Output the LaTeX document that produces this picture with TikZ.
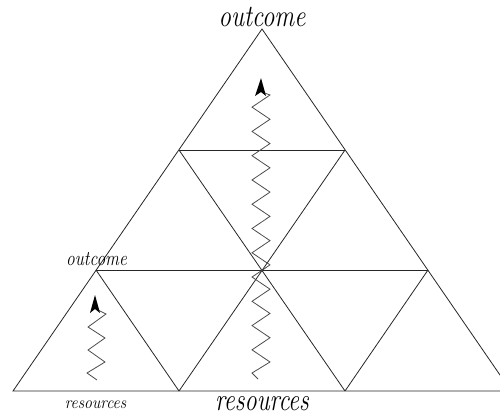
\documentclass[tikz,border=0pt]{standalone}
\begin{document}
\begin{tikzpicture}[x=1pt,y=-1pt,
  mesh/.style={draw=black!85,line width=0.8pt},
  zig/.style={draw=black!70,line width=0.8pt,line join=miter},
  head/.style={fill=black},
  lbl/.style={inner sep=0pt,anchor=base}]
\useasboundingbox (0,0) rectangle (500,415);
\clip (0,0) rectangle (500,415);
% vertices
\coordinate (A) at (262,29);
\coordinate (B1) at (179,150);
\coordinate (B2) at (345,150);
\coordinate (C1) at (96,270);
\coordinate (C2) at (262,270);
\coordinate (C3) at (428,270);
\coordinate (D1) at (13,391);
\coordinate (D2) at (179,391);
\coordinate (D3) at (345,391);
\coordinate (D4) at (511,391);
% mesh
\draw[mesh] (A) -- (D1) -- (D4) -- cycle;
\draw[mesh] (B1) -- (B2);
\draw[mesh] (C1) -- (C3);
\draw[mesh] (D2) -- (B2);
\draw[mesh] (D3) -- (C3);
\draw[mesh] (D3) -- (B1);
\draw[mesh] (D2) -- (C1);
% central zigzag
\draw[zig] (262,92) -- (270,95)
  \foreach \k in {1,...,22} { -- ({ifthenelse(isodd(\k),252,270)},{95+12.136*\k}) }
  -- (252,373) -- (258,379);
\fill[head] (261,78) -- (266,96) -- (261,92) -- (255,96) -- cycle;
% left zigzag
\draw[zig] (96,309) -- (106,314) -- (88,327) -- (105,338) -- (88,350) -- (105,362) -- (87,373) -- (97,380);
\fill[head] (95,295) -- (100,313) -- (95,309) -- (90,313) -- cycle;
% labels
\node[lbl] (to) at (262,27) {\scalebox{1}[1.25]{\fontsize{24.8pt}{30pt}\selectfont\itshape outcome}};
\node[lbl] (br) at (262,410) {\scalebox{1}[1.3]{\fontsize{24.4pt}{30pt}\selectfont\itshape resources}};
\node[lbl] (so) at (96.5,265) {\scalebox{1}[1.2]{\fontsize{17.4pt}{22pt}\selectfont\itshape outcome}};
\node[lbl] (sr) at (95.5,408) {\scalebox{1}[1.1]{\fontsize{15.9pt}{20pt}\selectfont\itshape resources}};
\end{tikzpicture}
\end{document}
